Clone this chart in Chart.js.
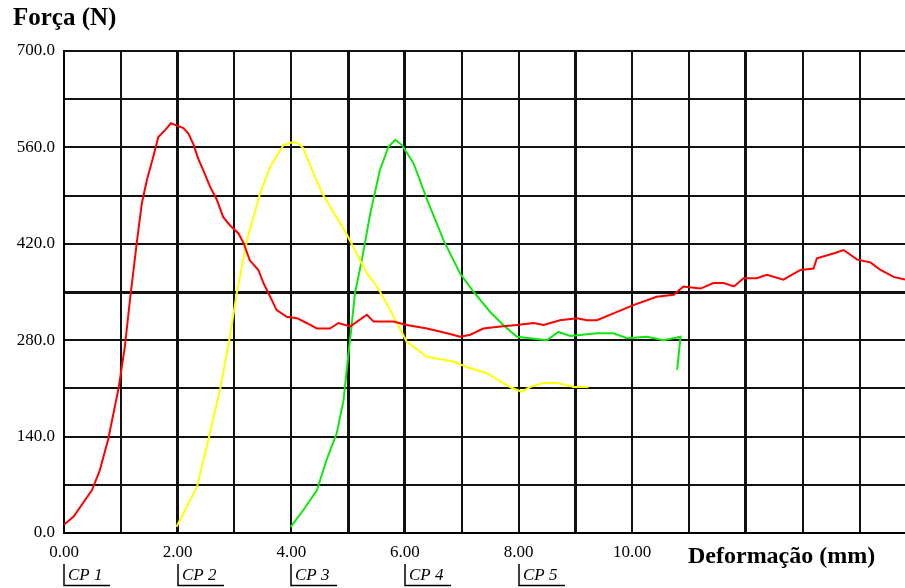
<!DOCTYPE html>
<html>
<head>
<meta charset="utf-8">
<script src="https://cdn.jsdelivr.net/npm/chart.js@4"></script>
<style>
  html, body { margin: 0; padding: 0; background: #fff; }
  #wrap { width: 905px; height: 588px; position: relative; }
</style>
</head>
<body>
<div id="wrap"><canvas id="forceChart"></canvas></div>
<script>
// Data
const seriesNames = ["CP 1", "CP 2", "CP 3"];
const seriesColors = ["#ff0000", "#ffff00", "#11e611"];
const legendNames = ["CP 1", "CP 2", "CP 3", "CP 4", "CP 5"];
const legendAt = [0, 2, 4, 6, 8];
const xGrid = [0, 1, 2, 3, 4, 5, 6, 7, 8, 9, 10, 11, 12, 13, 14];

const cp1X = [0, 0.17, 0.49, 0.63, 0.78, 0.96, 1.07, 1.16, 1.28, 1.37, 1.46, 1.57, 1.66, 1.78, 1.88, 1.98, 2.10, 2.19, 2.28, 2.36, 2.45, 2.57, 2.69, 2.80, 2.92, 3.07, 3.16, 3.27, 3.42, 3.51, 3.63, 3.74, 3.92, 4.10, 4.27, 4.45, 4.68, 4.83, 5.04, 5.33, 5.45, 5.80, 6.03, 6.39, 6.74, 6.97, 7.15, 7.38, 7.68, 7.97, 8.26, 8.44, 8.73, 9.03, 9.20, 9.38, 9.67, 10.02, 10.43, 10.73, 10.90, 11.20, 11.43, 11.61, 11.79, 11.96, 12.19, 12.37, 12.66, 12.96, 13.19, 13.25, 13.54, 13.72, 13.96, 14.19, 14.37, 14.60, 14.80];
const cp1Y = [12, 24, 62, 91, 137, 210, 270, 338, 421, 479, 513, 546, 575, 585, 595, 592, 588, 580, 564, 544, 527, 503, 484, 459, 447, 435, 421, 396, 382, 363, 343, 324, 314, 312, 305, 297, 297, 305, 300, 317, 307, 307, 302, 297, 290, 285, 288, 297, 300, 302, 305, 302, 309, 312, 309, 309, 319, 331, 343, 346, 358, 355, 363, 363, 358, 370, 370, 375, 368, 382, 384, 399, 406, 411, 397, 393, 382, 372, 368];

const cp2X = [1.98, 2.34, 2.54, 2.75, 2.92, 3.04, 3.22, 3.45, 3.63, 3.86, 4.00, 4.10, 4.21, 4.39, 4.56, 4.83, 4.98, 5.33, 5.51, 5.74, 6.03, 6.39, 6.85, 7.09, 7.44, 7.85, 8.06, 8.20, 8.44, 8.67, 8.97, 9.23];
const cp2Y = [9, 67, 135, 210, 285, 348, 425, 493, 532, 563, 567, 567, 559, 522, 491, 454, 433, 377, 358, 324, 278, 256, 249, 241, 232, 212, 205, 212, 218, 218, 212, 212];

const cp3X = [3.99, 4.21, 4.45, 4.62, 4.80, 4.92, 4.98, 5.06, 5.12, 5.24, 5.39, 5.56, 5.71, 5.83, 5.95, 6.15, 6.39, 6.68, 6.97, 7.21, 7.50, 7.73, 7.97, 8.20, 8.50, 8.70, 8.91, 9.38, 9.67, 9.91, 10.26, 10.55, 10.85, 10.79];
const cp3Y = [9, 33, 62, 106, 145, 193, 241, 300, 348, 396, 464, 527, 561, 571, 563, 537, 484, 425, 377, 350, 321, 302, 285, 283, 280, 292, 286, 290, 290, 283, 285, 280, 285, 237];

const xs = [cp1X, cp2X, cp3X];
const ys = [cp1Y, cp2Y, cp3Y];

Chart.defaults.font.family = "'Liberation Serif', 'Times New Roman', serif";
Chart.defaults.color = "#000";

const datasets = seriesNames.map((name, i) => ({
  label: name,
  data: xs[i].map((x, k) => ({ x: x, y: ys[i][k] })),
  borderColor: seriesColors[i],
  backgroundColor: seriesColors[i],
  borderWidth: 2,
  pointRadius: 0,
  showLine: true,
  tension: 0,
}));

// text drawn around the plot
const textPlugin = {
  id: "textPlugin",
  afterDraw(chart) {
    const ctx = chart.ctx;
    const xScale = chart.scales.x;
    ctx.save();
    ctx.fillStyle = "#000";
    ctx.textBaseline = "middle";
    ctx.textAlign = "left";
    ctx.font = "bold 25px 'Liberation Serif'";
    ctx.fillText("Força (N)", 13, 19);
    ctx.font = "bold 24px 'Liberation Serif'";
    ctx.fillText("Deformação (mm)", 688, 557);

    ctx.font = "italic 17px 'Liberation Serif'";
    ctx.strokeStyle = "#000";
    ctx.lineWidth = 1.5;
    legendNames.forEach((name, i) => {
      const px = Math.round(xScale.getPixelForValue(legendAt[i]));
      ctx.beginPath();
      ctx.moveTo(px, 564);
      ctx.lineTo(px, 585.5);
      ctx.lineTo(px + 46, 585.5);
      ctx.stroke();
      ctx.fillText(name, px + 4, 576);
    });
    ctx.restore();
  },
};

const thickX = [2, 5, 6, 9, 12];

const config = {
  type: "scatter",
  data: { datasets: datasets },
  options: {
    responsive: true,
    maintainAspectRatio: false,
    animation: false,
    layout: { padding: { top: 51, right: 0, left: 0, bottom: 0 } },
    plugins: {
      legend: { display: false },
      tooltip: { enabled: false },
    },
    scales: {
      x: {
        type: "linear",
        min: 0,
        max: 14.8,
        afterBuildTicks: (scale) => { scale.ticks = xGrid.map((v) => ({ value: v })); },
        afterFit: (scale) => { scale.height = 55; },
        border: { display: true, color: "#000", width: 2 },
        grid: {
          drawTicks: false,
          color: "#111",
          lineWidth: (c) => (thickX.includes(c.tick.value) ? 3 : 2),
        },
        ticks: {
          autoSkip: false,
          maxRotation: 0,
          padding: 9,
          font: { size: 17 },
          callback: (v) => (v <= 10 && v % 2 === 0 ? v.toFixed(2) : ""),
        },
      },
      y: {
        min: 0,
        max: 700,
        afterFit: (scale) => { scale.width = 64; },
        border: { display: true, color: "#000", width: 2 },
        grid: {
          drawTicks: false,
          color: "#111",
          lineWidth: (c) => (c.tick.value === 350 ? 3 : 2),
        },
        ticks: {
          stepSize: 70,
          padding: 9,
          font: { size: 17 },
          callback: (v) => (v % 140 === 0 ? v.toFixed(1) : ""),
        },
      },
    },
  },
  plugins: [textPlugin],
};

const forceChart = new Chart(document.getElementById("forceChart"), config);
</script>
</body>
</html>
